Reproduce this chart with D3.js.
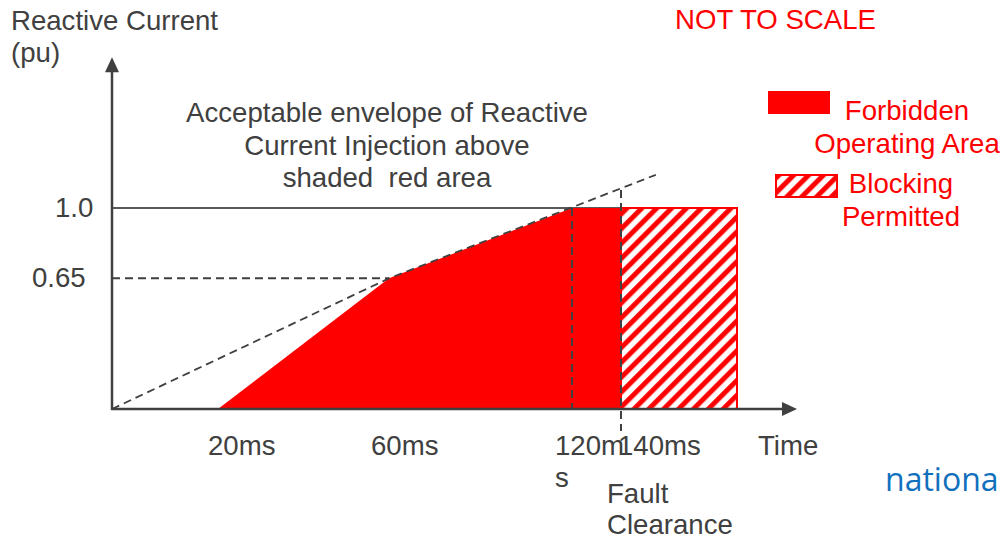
<!DOCTYPE html>
<html>
<head>
<meta charset="utf-8">
<script src="https://cdn.jsdelivr.net/npm/d3@7"></script>
<style>
  html, body { margin: 0; padding: 0; background: #fff; }
  svg { display: block; font-family: "Liberation Sans", Arial, sans-serif; }
  text { white-space: pre; }
</style>
</head>
<body>
<svg id="chart" width="1005" height="540"></svg>
<script>
// ---- data ----
const timeValues = [20, 60, 120, 140];
const timeLabels = ["20ms", "60ms", "120m\ns", "140ms"];
const yTickValues = [1.0, 0.65];
const yTickLabels = ["1.0", "0.65"];
const forbiddenArea = [[20, 0], [60, 0.65], [120, 1.0], [140, 1.0], [140, 0]];
const blockingTime = [140, 160];
const blockingCurrent = [0, 1.0];
const envelopeLine = [[0, 0], [60, 0.65], [146, 1.165]];
const legendItems = ["Forbidden\nOperating Area", "Blocking\nPermitted"];
const annotationLines = ["Acceptable envelope of Reactive", "Current Injection above", "shaded  red area"];

// ---- layout ----
const svg = d3.select("#chart");
const GREY = "#404040", RED = "#ff0000";
const FS = 27.6;
// "NOT TO SCALE": piecewise time axis
const x = d3.scaleLinear().domain([0, 20, 60, 120, 140, 160, 170]).range([112, 218, 389, 572, 621, 737, 797]);
const y = d3.scaleLinear().domain([0, 1]).range([409, 208]);
const xMax = 170, yMax = 1.75;

const defs = svg.append("defs");
const pat = defs.append("pattern").attr("id", "hatch").attr("patternUnits", "userSpaceOnUse")
  .attr("width", 10.5).attr("height", 10.5).attr("patternTransform", "rotate(45)");
pat.append("rect").attr("width", 10.5).attr("height", 10.5).attr("fill", "#fff");
pat.append("line").attr("x1", 2.6).attr("x2", 2.6).attr("y1", 0).attr("y2", 10.5)
  .attr("stroke", RED).attr("stroke-width", 5);

// 1.0 reference line
svg.append("line").attr("x1", x(0)).attr("x2", x(160)).attr("y1", y(1)).attr("y2", y(1))
  .attr("stroke", "#595959").attr("stroke-width", 2);

// forbidden area
svg.append("path").datum(forbiddenArea)
  .attr("d", d3.line().x(d => x(d[0])).y(d => y(d[1])).curve(d3.curveLinearClosed))
  .attr("fill", RED);

// blocking area
svg.append("rect").attr("x", x(blockingTime[0])).attr("y", y(blockingCurrent[1]))
  .attr("width", x(blockingTime[1]) - x(blockingTime[0]))
  .attr("height", y(blockingCurrent[0]) - y(blockingCurrent[1]))
  .attr("fill", "url(#hatch)").attr("stroke", RED).attr("stroke-width", 2);

// dashed guides
const dash = "8,5";
svg.append("line").attr("x1", x(0)).attr("x2", x(60)).attr("y1", y(0.65)).attr("y2", y(0.65))
  .attr("stroke", GREY).attr("stroke-width", 2).attr("stroke-dasharray", dash);
svg.append("line").attr("x1", x(120)).attr("x2", x(120)).attr("y1", y(1)).attr("y2", y(0))
  .attr("stroke", GREY).attr("stroke-width", 2).attr("stroke-dasharray", dash);
svg.append("line").attr("x1", x(140)).attr("x2", x(140)).attr("y1", y(1.09)).attr("y2", y(-0.11))
  .attr("stroke", GREY).attr("stroke-width", 2).attr("stroke-dasharray", dash);
svg.append("path").datum(envelopeLine)
  .attr("d", d3.line().x(d => x(d[0])).y(d => y(d[1])))
  .attr("fill", "none").attr("stroke", GREY).attr("stroke-width", 1.8).attr("stroke-dasharray", dash);

// axes
svg.append("line").attr("x1", x(0)).attr("x2", x(0)).attr("y1", y(0) + 1).attr("y2", y(yMax) + 12)
  .attr("stroke", GREY).attr("stroke-width", 2.5);
svg.append("line").attr("x1", x(0) - 1).attr("x2", x(xMax) - 12).attr("y1", y(0)).attr("y2", y(0))
  .attr("stroke", GREY).attr("stroke-width", 2.5);
svg.append("path").attr("d", `M${x(0)},${y(yMax)} L${x(0) - 7},${y(yMax) + 15} L${x(0) + 7},${y(yMax) + 15} Z`).attr("fill", GREY);
svg.append("path").attr("d", `M${x(xMax)},${y(0)} L${x(xMax) - 15},${y(0) - 7} L${x(xMax) - 15},${y(0) + 7} Z`).attr("fill", GREY);

// y tick labels
const yLabelLeft = [55, 32];
svg.selectAll("text.ytick").data(yTickValues).enter().append("text")
  .attr("class", "ytick").attr("x", (d, i) => yLabelLeft[i]).attr("y", d => y(d) + 9)
  .attr("font-size", FS).attr("fill", GREY).text((d, i) => yTickLabels[i]);

// x tick labels
const xLabelLeft = [208, 371, 555, 618];
timeValues.forEach((v, i) => {
  const t = svg.append("text").attr("x", xLabelLeft[i]).attr("y", 455)
    .attr("font-size", FS).attr("fill", GREY);
  timeLabels[i].split("\n").forEach((s, j) => {
    t.append("tspan").attr("x", xLabelLeft[i]).attr("dy", j === 0 ? 0 : 32).text(s);
  });
});

// axis titles
const yt = svg.append("text").attr("x", 11).attr("y", 30).attr("font-size", FS).attr("fill", GREY);
yt.append("tspan").attr("x", 11).text("Reactive Current");
yt.append("tspan").attr("x", 11).attr("dy", 32).text("(pu)");
svg.append("text").attr("x", 758).attr("y", 455).attr("font-size", FS).attr("fill", GREY).text("Time");
const fc = svg.append("text").attr("x", 607).attr("y", 503).attr("font-size", FS).attr("fill", GREY);
fc.append("tspan").attr("x", 607).text("Fault");
fc.append("tspan").attr("x", 607).attr("dy", 31).text("Clearance");

// annotation
const an = svg.append("text").attr("x", 387).attr("y", 122).attr("font-size", FS)
  .attr("fill", GREY).attr("text-anchor", "middle");
annotationLines.forEach((s, i) => an.append("tspan").attr("x", 387).attr("dy", i === 0 ? 0 : 32.5).text(s));

svg.append("text").attr("x", 675).attr("y", 29).attr("font-size", FS).attr("fill", RED).text("NOT TO SCALE");

// legend
svg.append("rect").attr("x", 768).attr("y", 91).attr("width", 62).attr("height", 23).attr("fill", RED);
svg.append("rect").attr("x", 776).attr("y", 175).attr("width", 61).attr("height", 22)
  .attr("fill", "url(#hatch)").attr("stroke", RED).attr("stroke-width", 2);
const legendCx = [907, 901], legendY = [120, 193];
legendItems.forEach((s, i) => {
  const t = svg.append("text").attr("x", legendCx[i]).attr("y", legendY[i]).attr("font-size", FS)
    .attr("fill", RED).attr("text-anchor", "middle");
  s.split("\n").forEach((l, j) => t.append("tspan").attr("x", legendCx[i]).attr("dy", j === 0 ? 0 : 33).text(l));
});

// logo fragment, as visible at the right edge
svg.append("text").attr("x", 885).attr("y", 491).attr("font-size", 32).attr("fill", "#1170bd")
  .attr("font-family", "'Open Sans', sans-serif").text("nationa");
</script>
</body>
</html>
